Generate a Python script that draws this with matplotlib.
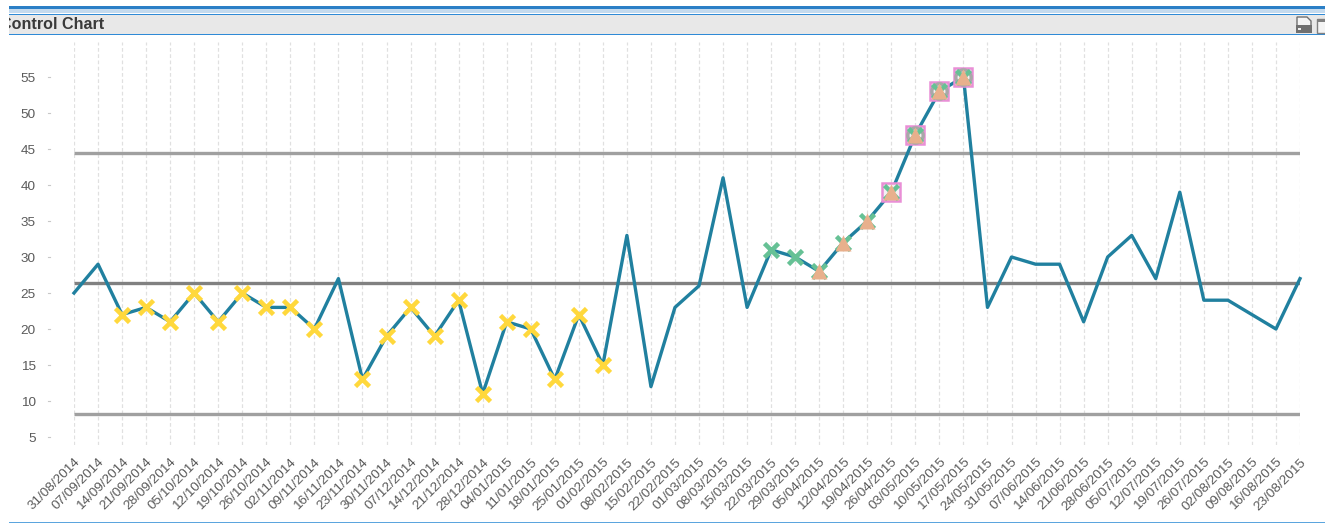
import matplotlib
matplotlib.use('Agg')
import matplotlib.pyplot as plt
from matplotlib.patches import Rectangle, Polygon

plt.rcParams['font.family'] = ['Liberation Sans', 'DejaVu Sans']

W, H = 1330, 525

dates = ['31/08/2014', '07/09/2014', '14/09/2014', '21/09/2014', '28/09/2014', '05/10/2014',
         '12/10/2014', '19/10/2014', '26/10/2014', '02/11/2014', '09/11/2014', '16/11/2014',
         '23/11/2014', '30/11/2014', '07/12/2014', '14/12/2014', '21/12/2014', '28/12/2014',
         '04/01/2015', '11/01/2015', '18/01/2015', '25/01/2015', '01/02/2015', '08/02/2015',
         '15/02/2015', '22/02/2015', '01/03/2015', '08/03/2015', '15/03/2015', '22/03/2015',
         '29/03/2015', '05/04/2015', '12/04/2015', '19/04/2015', '26/04/2015', '03/05/2015',
         '10/05/2015', '17/05/2015', '24/05/2015', '31/05/2015', '07/06/2015', '14/06/2015',
         '21/06/2015', '28/06/2015', '05/07/2015', '12/07/2015', '19/07/2015', '26/07/2015',
         '02/08/2015', '09/08/2015', '16/08/2015', '23/08/2015']
values = [25, 29, 22, 23, 21, 25, 21, 25, 23, 23, 20, 27, 13, 19, 23, 19, 24, 11, 21, 20, 13, 22,
          15, 33, 12, 23, 26, 41, 23, 31, 30, 28, 32, 35, 39, 47, 53, 55, 23, 30, 29, 29, 21, 30,
          33, 27, 39, 24, 24, 22, 20, 27]
y_ticks = [5, 10, 15, 20, 25, 30, 35, 40, 45, 50, 55]

ucl = 44.4
mean = 26.35
lcl = 8.2

# which weeks get flagged by each rule
rule_yellow = [2, 3, 4, 5, 6, 7, 8, 9, 10, 12, 13, 14, 15, 16, 17, 18, 19, 20, 21, 22]
rule_green = [29, 30, 31, 32, 33, 34, 35, 36, 37]
rule_orange = [31, 32, 33, 34, 35, 36, 37]
rule_grey = [35, 36, 37]
rule_pink = [34, 35, 36, 37]

fig = plt.figure(figsize=(W / 100, H / 100), dpi=100, facecolor='white')


def pick(idx):
    return idx, [values[i] for i in idx]


# plot area, placed in pixels
left, right, top, bottom = 74, 1300, 42, 445
ax = fig.add_axes([left / W, 1 - bottom / H, (right - left) / W, (bottom - top) / H])
ax.set_xlim(0, len(values) - 1)
ax.set_ylim(5 - (bottom - 437) / 7.2, 55 + (77 - top) / 7.2)
for s in ax.spines.values():
    s.set_visible(False)

ax.set_xticks(range(len(dates)))
ax.set_xticklabels(dates, rotation=45, ha='right', va='top', rotation_mode='anchor',
                   fontsize=9.7, color='#5a5a5a')
ax.set_yticks(y_ticks)
ax.set_yticklabels(y_ticks, fontsize=9.7, color='#5a5a5a')
ax.tick_params(axis='x', length=0, pad=8)
ax.tick_params(axis='y', length=0, pad=27.5)
ax.grid(axis='x', color='#e0e0e0', linestyle=(0, (3, 2)), linewidth=0.9)
ax.set_axisbelow(True)

# the little marks beside the y labels sit away from the plot
for v in y_ticks:
    ax.plot([-0.0215, -0.0195], [v, v], transform=ax.get_yaxis_transform(), color='#c8c8c8',
            lw=0.8, clip_on=False)

ax.plot([0, len(values) - 1], [ucl, ucl], color='#a0a0a0', lw=2.4, solid_capstyle='butt', zorder=2)
ax.plot([0, len(values) - 1], [mean, mean], color='#808080', lw=2.4, solid_capstyle='butt', zorder=2)
ax.plot([0, len(values) - 1], [lcl, lcl], color='#a0a0a0', lw=2.4, solid_capstyle='butt', zorder=2)

ax.plot(range(len(values)), values, color='#20809f', lw=2.4, zorder=3, clip_on=False)

x, y = pick(rule_pink)
ax.plot(x, y, ls='none', marker='s', ms=13, mfc='#f4f0f2', mec='#e98fd6', mew=1.8, zorder=4, clip_on=False)
x, y = pick(rule_grey)
ax.plot(x, y, ls='none', marker='o', ms=11, mfc='none', mec='#a8a8a8', mew=2.4, zorder=5, clip_on=False)
x, y = pick(rule_yellow)
ax.plot(x, y, ls='none', marker='x', ms=10.5, mec='#ffd83c', mew=3.3, zorder=5, clip_on=False)
x, y = pick(rule_green)
ax.plot(x, y, ls='none', marker='x', ms=10.5, mec='#66c195', mew=3.3, zorder=6, clip_on=False)
x, y = pick(rule_orange)
ax.plot(x, y, ls='none', marker='^', ms=11, mfc='#e8b08c', mec='none', zorder=7, clip_on=False)

# window frame around the chart, in pixels
frame = fig.add_axes([0, 0, 1, 1], zorder=10)
frame.set_xlim(0, W)
frame.set_ylim(H, 0)
frame.axis('off')
frame.add_patch(Rectangle((9, 14), 1316, 20, fc='#e8e8e8', ec='none'))
frame.add_patch(Rectangle((9, 6), 1316, 2.5, fc='#2b7fc6', ec='none'))
frame.add_patch(Rectangle((9, 8.5), 1316, 4, fc='#c4daee', ec='none'))
frame.add_patch(Rectangle((9, 13.5), 1316, 1.2, fc='#2f8ad6', ec='none'))
frame.add_patch(Rectangle((9, 33.5), 1316, 1.2, fc='#2f8ad6', ec='none'))
frame.add_patch(Rectangle((9, 521.5), 1316, 1.2, fc='#5ba5de', ec='none'))
frame.text(-0.5, 24.5, 'Control Chart', fontsize=11.6, fontweight='bold', color='#3a3a3a',
           ha='left', va='center')
frame.add_patch(Rectangle((0, 13), 9, 22, fc='white', ec='none', zorder=5))

# caption icons
frame.add_patch(Polygon([(1297, 17), (1307, 17), (1311, 21), (1311, 26), (1297, 26)],
                        closed=True, fc='#f4f4f4', ec='#707070', lw=1))
frame.add_patch(Rectangle((1296, 25), 16, 8, fc='#707070', ec='none'))
frame.add_patch(Rectangle((1298, 28), 3, 1.5, fc='#eeeeee', ec='none'))
frame.add_patch(Rectangle((1316.5, 18.5), 14, 14, fc='#f4f4f4', ec='#808080', lw=1))
frame.add_patch(Rectangle((1316.5, 18.5), 14, 3, fc='#808080', ec='none'))
frame.add_patch(Rectangle((1325, 0), 5, H, fc='white', ec='none', zorder=5))

fig.savefig('out.png', dpi=100, facecolor='white')
